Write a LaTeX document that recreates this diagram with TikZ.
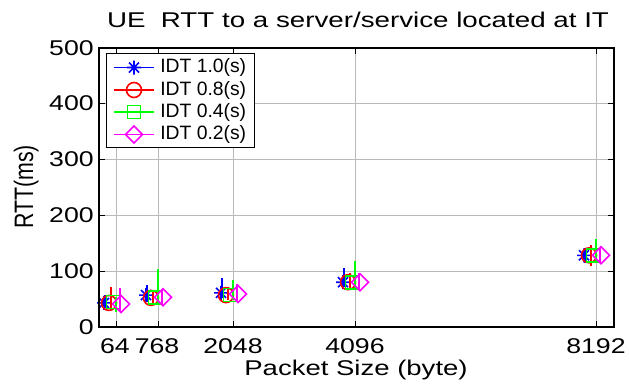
\documentclass[tikz,border=0pt]{standalone}
\usepackage{graphicx}
\usepackage{fontspec}
\setmainfont{Liberation Sans}
\usetikzlibrary{positioning}
\tikzset{%
  axis box/.style={draw, line width=1pt}, % frame of the plot
  grid line/.style={gray!55, line width=0.6pt},
  tick mark/.style={line width=0.6pt},
  tick label/.style={inner sep=0pt, font=\fontsize{16}{19}\selectfont},
  err bar/.style={line width=1.8pt},
  mark line/.style={line width=1.2pt},
  legend text/.style={inner sep=0pt, anchor=west, font=\fontsize{14.5}{17}\selectfont},
  % markers as pics, drawn in the current colour
  mstar/.pic={\draw[mark line] (-7,0) -- (7,0) (0,-7) -- (0,7) (-5,-5) -- (5,5) (-5,5) -- (5,-5);},
  mcirc/.pic={\draw[mark line] (0,0) circle[radius=7.5];},
  msquare/.pic={\draw[mark line] (-6.5,-6.5) rectangle (6.5,6.5);},
  mdiamond/.pic={\draw[mark line] (-8.5,0) -- (0,-8.5) -- (8.5,0) -- (0,8.5) -- cycle;}
}
\definecolor{mblue}{RGB}{0,0,255}
\definecolor{mred}{RGB}{255,0,0}
\definecolor{mgreen}{RGB}{0,255,0}
\definecolor{mmagenta}{RGB}{255,0,255}
\newcommand{\wide}[2][1.25]{\scalebox{#1}[1]{#2}} % the axis texts are stretched sideways

\begin{document}
\begin{tikzpicture}[x=0.75pt, y=-0.75pt]
  \useasboundingbox (0,0) rectangle (629,383);

  % grid
  \foreach \gx in {116,158,233,355,596}
    \draw[grid line] (\gx,48) -- (\gx,327);
  \foreach \gy in {103,159,215,271}
    \draw[grid line] (99,\gy) -- (614,\gy);

  % ticks on all four sides
  \foreach \gx in {116,158,233,355,596} {
    \draw[tick mark] (\gx,327) -- (\gx,321);
    \draw[tick mark] (\gx,48) -- (\gx,54);
  }
  \foreach \gy in {103,159,215,271} {
    \draw[tick mark] (99,\gy) -- (105,\gy);
    \draw[tick mark] (614,\gy) -- (608,\gy);
  }

  % data: x offset, colour, marker
  \foreach \gx/\ym/\ylo/\yhi in {116/43/34/57, 158/57/45/75, 233/61/52/87, 355/80/71/105, 596/128/114/141} {
    \draw[err bar, mblue] ({\gx-11},{327-0.56*\ylo}) -- ({\gx-11},{327-0.56*\yhi});
    \pic[mblue] at ({\gx-12},{327-0.56*\ym}) {mstar};
  }
  \foreach \gx/\ym/\ylo/\yhi in {116/43/30/71, 158/52/39/64, 233/57/48/71, 355/80/66/96, 596/128/109/146} {
    \draw[err bar, mred] ({\gx-5},{327-0.56*\ylo}) -- ({\gx-5},{327-0.56*\yhi});
    \pic[mred] at ({\gx-7},{327-0.56*\ym}) {mcirc};
  }
  \foreach \gx/\ym/\ylo/\yhi in {116/45/27/54, 158/53/43/103, 233/57/48/84, 355/80/70/118, 596/128/114/157} {
    \draw[err bar, mgreen] ({\gx},{327-0.56*\ylo}) -- ({\gx},{327-0.56*\yhi});
    \pic[mgreen] at ({\gx-3},{327-0.56*\ym}) {msquare};
  }
  \foreach \gx/\ym/\ylo/\yhi in {116/41/27/70, 158/53/39/66, 233/59/45/77, 355/80/66/96, 596/128/114/141} {
    \draw[err bar, mmagenta] ({\gx+4},{327-0.56*\ylo}) -- ({\gx+4},{327-0.56*\yhi});
    \pic[mmagenta] at ({\gx+5},{327-0.56*\ym}) {mdiamond};
  }

  % frame
  \draw[axis box] (99,48) rectangle (614,327);

  % tick labels
  \foreach \gy/\lab in {327/0, 271/100, 215/200, 159/300, 103/400, 48/500}
    \node[tick label, anchor=east] (ylab\lab) at (94,\gy) {\wide{\lab}};
  \foreach \gx/\lab in {115/64, 157/768, 233/2048, 355/4096, 596/8192}
    \node[tick label, anchor=base] (xlab\lab) at (\gx,353) {\wide{\lab}};

  % titles
  \node[tick label, anchor=base] (title) at (358,27) {\wide[1.3]{UE\ \ RTT to a server/service located at IT}};
  \node[tick label, anchor=base] (xtitle) at (356,375) {\wide[1.29]{Packet Size (byte)}};
  \node[tick label, anchor=base, rotate=90] (ytitle) at (33,187) {\scalebox{1}[1.25]{RTT(ms)}};

  % legend
  \draw[fill=white, line width=0.6pt] (106,53) rectangle (254,147);
  \foreach \ly/\col/\mk/\lab in {67.5/mblue/mstar/1.0, 90/mred/mcirc/0.8, 112/mgreen/msquare/0.4, 134.5/mmagenta/mdiamond/0.2} {
    \draw[\col, line width=1.2pt] (114,\ly) -- (154,\ly);
    \pic[\col] at (134,\ly) {\mk};
    \node[legend text] (leg\lab) at (160,\ly) {IDT \lab(s)};
  }
\end{tikzpicture}
\end{document}
